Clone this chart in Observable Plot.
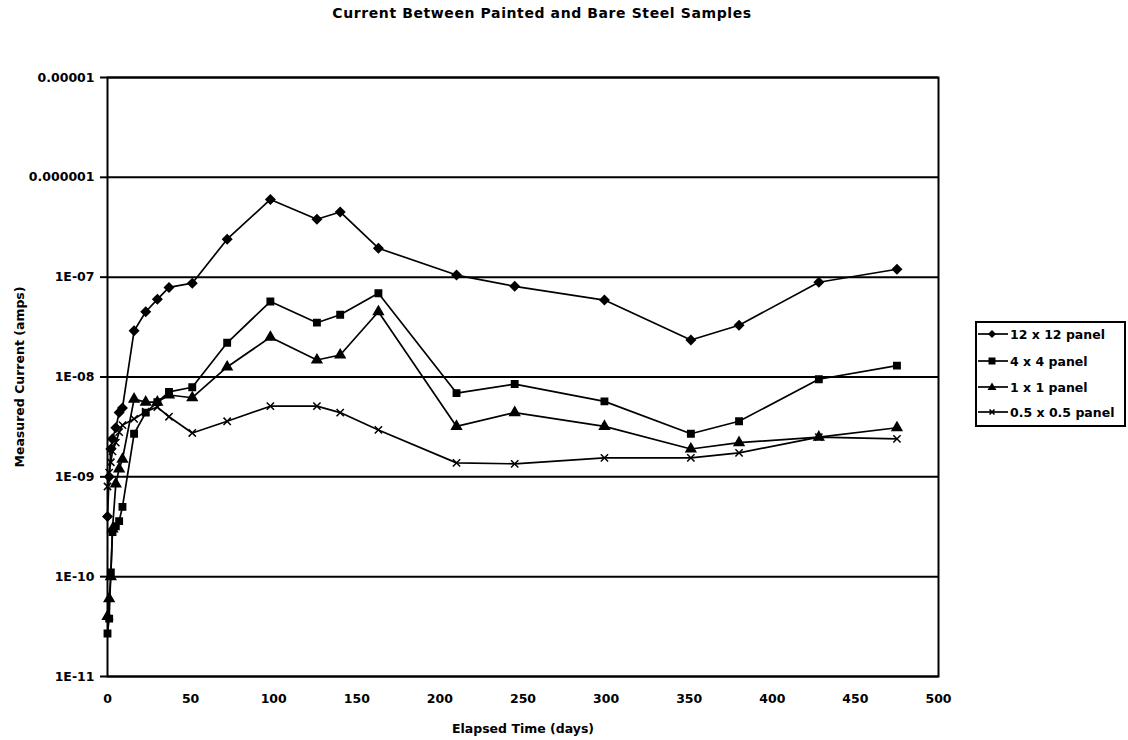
<!DOCTYPE html>
<html>
<head>
<meta charset="utf-8">
<script src="https://cdn.jsdelivr.net/npm/d3@7"></script>
<script src="https://cdn.jsdelivr.net/npm/@observablehq/plot@0.6"></script>
<style>
  body { margin: 0; background: #fff; }
  #wrap { position: relative; width: 1128px; height: 740px; font-family: "DejaVu Sans", "Liberation Sans", sans-serif; }
  #title { position: absolute; top: 5px; left: 0; width: 1084px; text-align: center; font-weight: bold; font-size: 14px; letter-spacing: 0.6px; }
  #legend { position: absolute; left: 975px; top: 321px; width: 151px; height: 106px; border: 2px solid #000; box-sizing: border-box; background: #fff; }
  .lg { position: absolute; left: 1px; height: 16px; display: flex; align-items: center; font-weight: bold; font-size: 12.5px; white-space: nowrap; }
  .lg svg { margin-right: 2px; }
</style>
</head>
<body>
<div id="wrap">
  <div id="title">Current Between Painted and Bare Steel Samples</div>
  <div id="chart"></div>
  <div id="legend"></div>
</div>
<script>
// ---- data ----
const days = [0, 1, 2, 3, 5, 7, 9, 16, 23, 30, 37, 51, 72, 98, 126, 140, 163, 210, 245, 299, 351, 380, 428, 475];
const panel12 = [4e-10, 1.0e-9, 1.9e-9, 2.4e-9, 3.1e-9, 4.4e-9, 4.9e-9, 2.9e-8, 4.5e-8, 6.0e-8, 7.9e-8, 8.7e-8, 2.4e-7, 6.0e-7, 3.8e-7, 4.5e-7, 1.95e-7, 1.05e-7, 8.1e-8, 5.9e-8, 2.35e-8, 3.3e-8, 8.9e-8, 1.2e-7];
const panel4 = [2.7e-11, 3.8e-11, 1.1e-10, 2.8e-10, 3.2e-10, 3.6e-10, 5.0e-10, 2.7e-9, 4.4e-9, 5.6e-9, 7.1e-9, 7.9e-9, 2.2e-8, 5.7e-8, 3.5e-8, 4.2e-8, 6.9e-8, 6.9e-9, 8.5e-9, 5.7e-9, 2.7e-9, 3.6e-9, 9.5e-9, 1.3e-8];
const panel1 = [4.0e-11, 6.0e-11, 1.0e-10, 3.0e-10, 8.5e-10, 1.2e-9, 1.5e-9, 6.0e-9, 5.6e-9, 5.6e-9, 6.6e-9, 6.2e-9, 1.26e-8, 2.5e-8, 1.48e-8, 1.66e-8, 4.5e-8, 3.2e-9, 4.4e-9, 3.2e-9, 1.9e-9, 2.2e-9, 2.5e-9, 3.1e-9];
const panel05 = [8.0e-10, 1.1e-9, 1.4e-9, 1.8e-9, 2.2e-9, 2.8e-9, 3.3e-9, 3.8e-9, 4.5e-9, 5.0e-9, 4.0e-9, 2.75e-9, 3.6e-9, 5.1e-9, 5.1e-9, 4.4e-9, 2.95e-9, 1.38e-9, 1.35e-9, 1.55e-9, 1.55e-9, 1.74e-9, 2.5e-9, 2.4e-9];
const seriesNames = ["12 x 12 panel", "4 x 4 panel", "1 x 1 panel", "0.5 x 0.5 panel"];
const xTicks = [0, 50, 100, 150, 200, 250, 300, 350, 400, 450, 500];
const yTicks = [1e-11, 1e-10, 1e-9, 1e-8, 1e-7, 1e-6, 1e-5];
const yTickLabels = ["1E-11", "1E-10", "1E-09", "1E-08", "1E-07", "0.000001", "0.00001"];
const xTitle = "Elapsed Time (days)";
const yTitle = "Measured Current (amps)";

// ---- build rows ----
const allSeries = [panel12, panel4, panel1, panel05];
const rows = [];
allSeries.forEach((vals, si) => vals.forEach((v, i) => rows.push({ series: seriesNames[si], day: days[i], current: v })));
const bySeries = name => rows.filter(r => r.series === name);

const yFmt = d => {
  const i = yTicks.findIndex(t => Math.abs(Math.log10(t) - Math.log10(d)) < 1e-6);
  return i >= 0 ? yTickLabels[i] : "";
};

const markerStyles = [
  { symbol: "diamond2", r: 4, fill: "black", stroke: "black" },
  { symbol: "square", r: 3.6, fill: "black", stroke: "black" },
  { symbol: "triangle", r: 3.6, fill: "black", stroke: "black" },
  { symbol: "times", r: 3.4, fill: "none", stroke: "black" }
];

const chart = Plot.plot({
  width: 1128,
  height: 740,
  marginTop: 77,
  marginBottom: 64,
  marginLeft: 107,
  marginRight: 190,
  style: { fontFamily: "'DejaVu Sans', 'Liberation Sans', sans-serif", fontSize: "12px", fontWeight: "bold", color: "black", background: "white" },
  x: { domain: [0, 500] },
  y: { type: "log", domain: [1e-11, 1e-5] },
  marks: [
    Plot.ruleY(yTicks, { stroke: "black", strokeWidth: 2 }),
    Plot.frame({ stroke: "black", strokeWidth: 2 }),
    Plot.line(rows, { x: "day", y: "current", z: "series", stroke: "black", strokeWidth: 1.7 }),
    ...seriesNames.map((name, i) => Plot.dot(bySeries(name), { x: "day", y: "current", symbol: () => markerStyles[i].symbol, r: markerStyles[i].r, fill: markerStyles[i].fill, stroke: markerStyles[i].stroke, strokeWidth: 1.5 })),
    Plot.axisY({ ticks: yTicks, tickFormat: yFmt, tickSize: 7, tickPadding: 6, strokeWidth: 2, fontSize: 12.5, label: yTitle, labelAnchor: "center", labelArrow: "none", labelOffset: 92 }),
    Plot.axisX({ ticks: xTicks, tickFormat: d => String(d), tickSize: 0, tickPadding: 18, fontSize: 12.5, label: xTitle, labelAnchor: "center", labelArrow: "none", labelOffset: 56 })
  ]
});
document.getElementById("chart").appendChild(chart);

// ---- legend ----
const legend = document.getElementById("legend");
const rowTops = [11, 38, 64, 89];
const markerSvg = i => {
  const m = markerStyles[i];
  let shape = "";
  if (m.symbol === "diamond2") shape = '<polygon points="14,2 18,6 14,10 10,6" fill="black"/>';
  else if (m.symbol === "square") shape = '<rect x="10.5" y="2.5" width="7" height="7" fill="black"/>';
  else if (m.symbol === "triangle") shape = '<polygon points="14,1.5 18.5,9 9.5,9" fill="black"/>';
  else shape = '<path d="M11.5,3.5 L16.5,8.5 M16.5,3.5 L11.5,8.5" stroke="black" stroke-width="1.6"/>';
  return `<svg width="30" height="12"><line x1="0" y1="6" x2="30" y2="6" stroke="black" stroke-width="1.7"/>${shape}</svg>`;
};
seriesNames.forEach((name, i) => {
  const d = document.createElement("div");
  d.className = "lg";
  d.style.top = (rowTops[i] - 8) + "px";
  d.innerHTML = markerSvg(i) + "<span>" + name + "</span>";
  legend.appendChild(d);
});
</script>
</body>
</html>
